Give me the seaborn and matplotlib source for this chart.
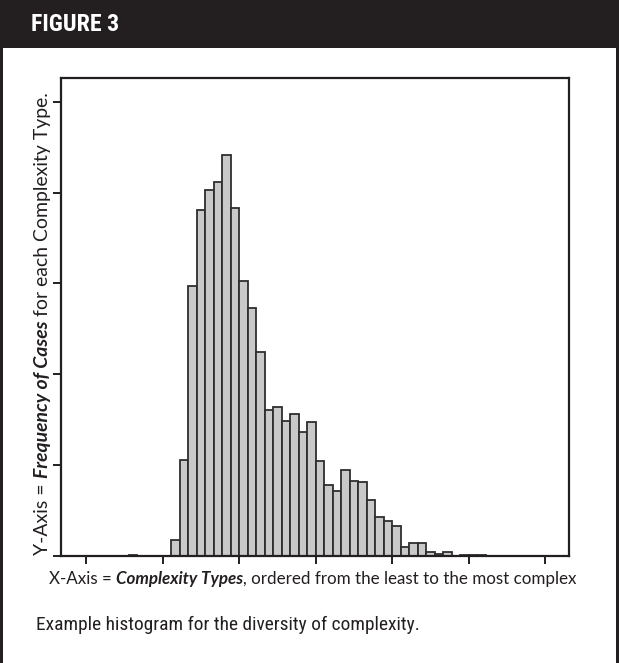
import matplotlib
matplotlib.use('Agg')
import matplotlib.pyplot as plt
from matplotlib.font_manager import FontProperties, fontManager
from matplotlib.patches import Rectangle
import numpy as np
import pandas as pd
import seaborn as sns

# complexity type (bin index) and number of cases in it
complexity_type = [5, 10, 11, 12, 13, 14, 15, 16, 17, 18, 19, 20, 21, 22, 23, 24, 25,
                   26, 27, 28, 29, 30, 31, 32, 33, 34, 35, 36, 37, 38, 39, 40, 41,
                   42, 44, 45, 46]
cases = [1, 18, 106, 297, 381, 403, 412, 441, 383, 303, 273, 224, 161, 164, 149, 156, 136,
         148, 104, 78, 72, 95, 82, 81, 62, 43, 38, 33, 10, 14, 14, 4, 2,
         4, 1, 1, 1]
x_ticks = [0, 9, 18, 27, 36, 45, 54]
y_ticks = [0, 100, 200, 300, 400, 500]

W, H = 619, 663
sns.set_style('white')
fig = plt.figure(figsize=(W / 100, H / 100), dpi=100)
ink = '#231f20'

# header band + frame sides
fig.patches.append(Rectangle((0, 1 - 48 / H), 1, 48 / H, transform=fig.transFigure,
                             facecolor=ink, edgecolor='none', zorder=0))
for xx in [0, W - 3]:
    fig.patches.append(Rectangle((xx / W, 0), 3 / W, 1, transform=fig.transFigure,
                                 facecolor=ink, edgecolor='none', zorder=0))

ax = fig.add_axes([61 / W, (H - 556) / H, 508 / W, 478 / H])
df = pd.DataFrame({'type': np.array(complexity_type) + 0.5, 'cases': cases})
sns.histplot(data=df, x='type', weights='cases', bins=list(range(0, 48)), ax=ax,
             color='#c9c9c9', edgecolor='#2e2e2e', linewidth=1.3, alpha=1)

ax.set_xlim(-2.94, 56.8)
ax.set_ylim(0, 526)
ax.set_xticks(x_ticks)
ax.set_yticks(y_ticks)
ax.set_xticklabels([])
ax.set_yticklabels([])
ax.set_xlabel('')
ax.set_ylabel('')
ax.tick_params(axis='both', direction='out', length=6, width=1.4, color=ink,
               bottom=True, left=True)
for s in ax.spines.values():
    s.set_linewidth(1.6)
    s.set_color(ink)

renderer = fig.canvas.get_renderer()
lab_font = ['Lato', 'Open Sans', 'DejaVu Sans']


def narrow_font(bold):
    # look for an installed condensed face, else a plain sans
    for key in ['LiberationSansNarrow', 'RobotoCondensed', 'DejaVuSansCondensed', 'Condensed', 'Narrow']:
        for f in fontManager.ttflist:
            fn = f.fname.replace('-', '').replace('_', '')
            if key in fn and ('Bold' in fn) == bold and 'Italic' not in fn and 'Oblique' not in fn:
                return FontProperties(fname=f.fname)
    return FontProperties(family=['Roboto', 'DejaVu Sans'], weight='bold' if bold else 'normal')


def advance(txt, fp):
    # width of a piece incl. spaces, in pixels
    a = fig.text(0, 0, txt + '|', fontproperties=fp)
    b = fig.text(0, 0, '|', fontproperties=fp)
    w = a.get_window_extent(renderer).width - b.get_window_extent(renderer).width
    a.remove()
    b.remove()
    return w


def mixed_label(parts, center, base, target, vertical=False):
    def props(size):
        return [FontProperties(family=lab_font, size=size, weight='bold' if st else 'normal',
                               style='italic' if st else 'normal') for _, st in parts]
    total = sum(advance(t, fp) for (t, _), fp in zip(parts, props(12)))
    size = 12 * target / total
    fps = props(size)
    widths = [advance(t, fp) for (t, _), fp in zip(parts, fps)]
    pos = center - sum(widths) / 2
    for (t, _), fp, w in zip(parts, fps, widths):
        if vertical:
            fig.text(base / W, (H - (2 * center - pos)) / H, t, fontproperties=fp, rotation=90,
                     rotation_mode='anchor', ha='left', va='baseline', color=ink)
        else:
            fig.text(pos / W, (H - base) / H, t, fontproperties=fp, ha='left', va='baseline',
                     color=ink)
        pos += w


def fitted(txt, x, base, target, fp, **kw):
    fp.set_size(12)
    fp.set_size(12 * target / advance(txt, fp))
    fig.text(x / W, (H - base) / H, txt, fontproperties=fp, va='baseline', **kw)


mixed_label([('X-Axis = ', False), ('Complexity Types', True),
             (', ordered from the least to the most complex', False)],
            center=313, base=584, target=526)
mixed_label([('Y-Axis = ', False), ('Frequency of Cases', True),
             (' for each Complexity Type.', False)],
            center=323.5, base=48, target=463, vertical=True)

fitted('FIGURE 3', 31, 31, 88, narrow_font(True), color='white')
fitted('Example histogram for the diversity of complexity.', 36, 630, 382,
       narrow_font(False), color=ink)

plt.savefig('out.png', dpi=100)
plt.close()
